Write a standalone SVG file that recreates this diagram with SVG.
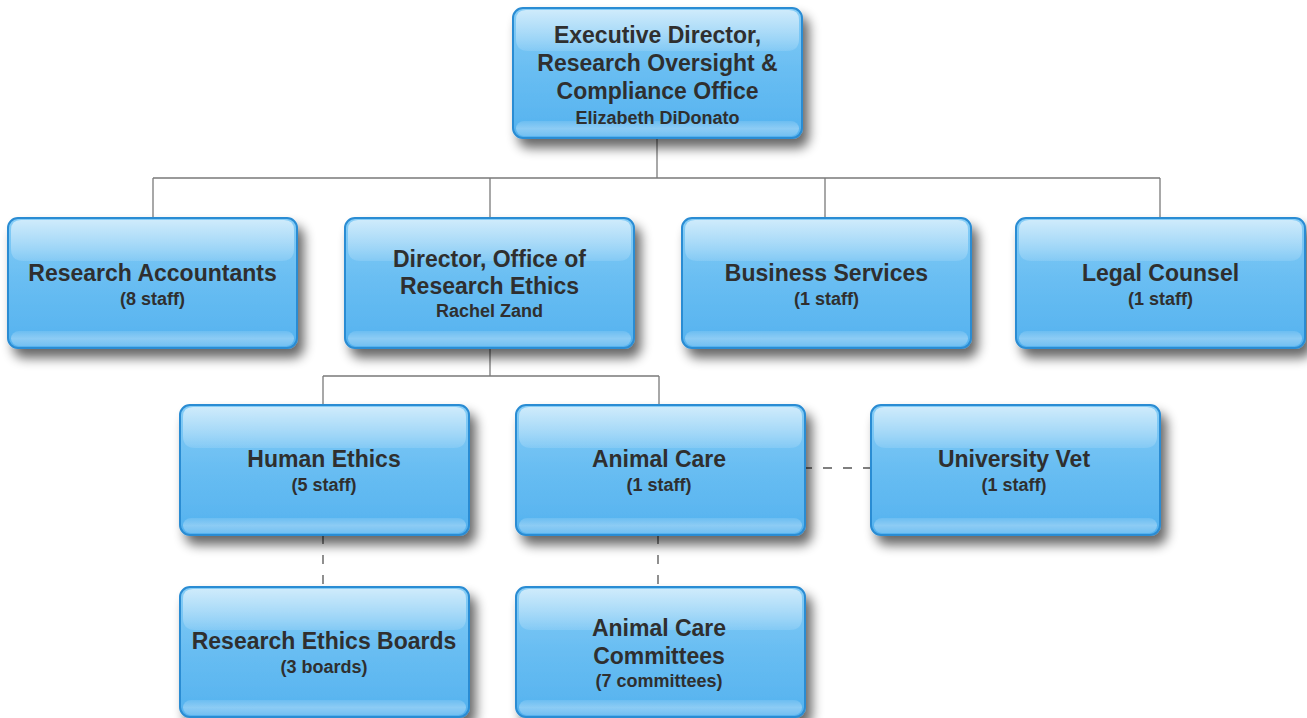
<svg xmlns="http://www.w3.org/2000/svg" xmlns:xlink="http://www.w3.org/1999/xlink" width="1307" height="718" viewBox="0 0 1307 718">
<style>
  text { font-family: "Liberation Sans", Arial, Helvetica, sans-serif; font-weight: bold; fill: #2f2f2f; text-anchor: middle; }
  .t { font-size: 23px; }
  .s { font-size: 18px; }
  .conn { fill: none; stroke: #7a7a7a; stroke-width: 1.3; }
  .dash { fill: none; stroke: #555555; stroke-width: 1.3; stroke-dasharray: 9 11; }
</style>
<defs>
  <linearGradient id="body" x1="0" y1="0" x2="0" y2="1">
    <stop offset="0" stop-color="#86cdf6"/>
    <stop offset="0.5" stop-color="#68bdf2"/>
    <stop offset="1" stop-color="#54b2ef"/>
  </linearGradient>
  <linearGradient id="gloss" x1="0" y1="0" x2="0" y2="1">
    <stop offset="0" stop-color="#ffffff" stop-opacity="0.6"/>
    <stop offset="0.7" stop-color="#ffffff" stop-opacity="0.28"/>
    <stop offset="1" stop-color="#ffffff" stop-opacity="0.12"/>
  </linearGradient>
  <linearGradient id="glow" x1="0" y1="0" x2="0" y2="1">
    <stop offset="0" stop-color="#ffffff" stop-opacity="0.12"/>
    <stop offset="0.5" stop-color="#ffffff" stop-opacity="0.32"/>
    <stop offset="1" stop-color="#ffffff" stop-opacity="0.18"/>
  </linearGradient>
  <filter id="shadow" x="-10%" y="-10%" width="130%" height="145%">
    <feGaussianBlur in="SourceAlpha" stdDeviation="6"/>
    <feOffset dx="6" dy="9" result="b"/>
    <feComponentTransfer><feFuncA type="linear" slope="0.6"/></feComponentTransfer>
    <feMerge><feMergeNode/><feMergeNode in="SourceGraphic"/></feMerge>
  </filter>
  <g id="box">
    <g filter="url(#shadow)">
      <rect x="0" y="0" width="289" height="130" rx="10" ry="10" fill="url(#body)" stroke="#2a8cd3" stroke-width="2"/>
    </g>
    <path d="M3,12 Q3,2 13,2 H276 Q286,2 286,12 V31 Q286,43 274,43 H15 Q3,43 3,31 Z" fill="url(#gloss)"/>
    <rect x="3" y="113" width="283" height="15" rx="8" ry="8" fill="url(#glow)"/>
  </g>
</defs>
<rect width="1307" height="718" fill="#ffffff"/>

<g id="connectors">
  <path class="conn" d="M657,138 V178 M153,178 H1160 M153,178 V218 M490,178 V218 M825,178 V218 M1160,178 V218"/>
  <path class="conn" d="M490,348 V376 M323,376 H659 M323,376 V405 M659,376 V405"/>
  <path class="dash" d="M323,535 V587"/>
  <path class="dash" d="M658,535 V587"/>
  <path class="dash" d="M803,468 H871"/>
</g>

<g id="n-exec" transform="translate(513,8)">
  <use xlink:href="#box"/>
  <text class="t" x="144.5" y="35">Executive Director,</text>
  <text class="t" x="144.5" y="63">Research Oversight &amp;</text>
  <text class="t" x="144.5" y="91">Compliance Office</text>
  <text class="s" x="144.5" y="116">Elizabeth DiDonato</text>
</g>

<g id="n-accountants" transform="translate(8,218)">
  <use xlink:href="#box"/>
  <text class="t" x="144.5" y="63">Research Accountants</text>
  <text class="s" x="144.5" y="87">(8 staff)</text>
</g>

<g id="n-director" transform="translate(345,218)">
  <use xlink:href="#box"/>
  <text class="t" x="144.5" y="49">Director, Office of</text>
  <text class="t" x="144.5" y="76">Research Ethics</text>
  <text class="s" x="144.5" y="99">Rachel Zand</text>
</g>

<g id="n-business" transform="translate(682,218)">
  <use xlink:href="#box"/>
  <text class="t" x="144.5" y="63">Business Services</text>
  <text class="s" x="144.5" y="87">(1 staff)</text>
</g>

<g id="n-legal" transform="translate(1016,218)">
  <use xlink:href="#box"/>
  <text class="t" x="144.5" y="63">Legal Counsel</text>
  <text class="s" x="144.5" y="87">(1 staff)</text>
</g>

<g id="n-human" transform="translate(180,405)">
  <use xlink:href="#box"/>
  <text class="t" x="144" y="62">Human Ethics</text>
  <text class="s" x="144" y="86">(5 staff)</text>
</g>

<g id="n-animal" transform="translate(516,405)">
  <use xlink:href="#box"/>
  <text class="t" x="143" y="62">Animal Care</text>
  <text class="s" x="143" y="86">(1 staff)</text>
</g>

<g id="n-vet" transform="translate(871,405)">
  <use xlink:href="#box"/>
  <text class="t" x="143" y="62">University Vet</text>
  <text class="s" x="143" y="86">(1 staff)</text>
</g>

<g id="n-reb" transform="translate(180,587)">
  <use xlink:href="#box"/>
  <text class="t" x="144" y="62">Research Ethics Boards</text>
  <text class="s" x="144" y="86">(3 boards)</text>
</g>

<g id="n-acc" transform="translate(516,587)">
  <use xlink:href="#box"/>
  <text class="t" x="143" y="49">Animal Care</text>
  <text class="t" x="143" y="77">Committees</text>
  <text class="s" x="143" y="100">(7 committees)</text>
</g>
</svg>
